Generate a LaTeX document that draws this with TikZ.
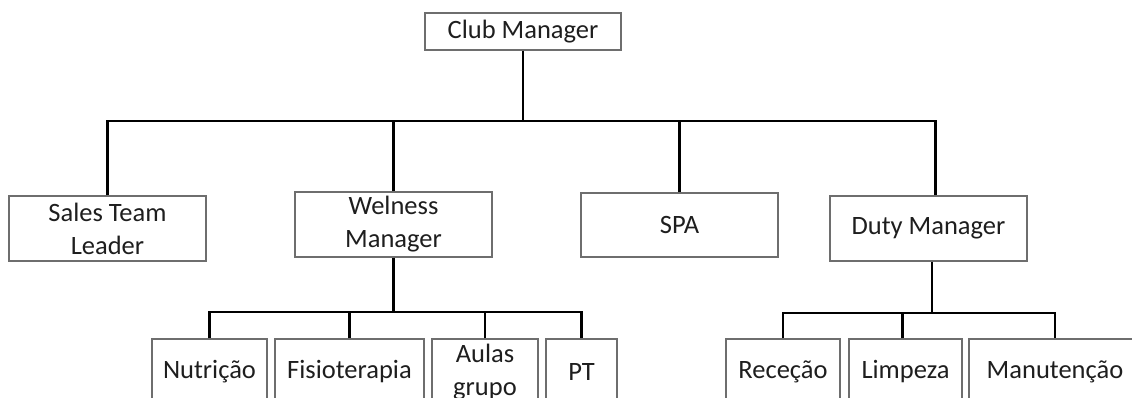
\documentclass[tikz,border=0pt]{standalone}
\usepackage{fontspec}
\setmainfont{Carlito}
\definecolor{boxline}{HTML}{6E6E6E}
\definecolor{boxtext}{HTML}{1E1E1E}
\tikzset{
  unitbox/.style={draw=boxline, line width=1.3pt, text=boxtext, align=center, inner sep=0pt,
    font=\fontsize{26.5}{33}\selectfont},
  link/.style={line width=2.8pt, line join=miter},
}
\begin{document}
\begin{tikzpicture}[x=1pt,y=-1pt]
          \useasboundingbox (0,0) rectangle (1132,398);
          \clip (0,0) rectangle (1132,398);

          \node[unitbox, minimum width=196pt, minimum height=37pt] (club) at (523,31.5) {Club Manager};

          \node[unitbox, minimum width=197pt, minimum height=65pt] (sales) at (107.5,228.5) {Sales Team\\Leader};
          \node[unitbox, minimum width=197pt, minimum height=65pt] (welness) at (393.5,224.5) {Welness\\Manager};
          \node[unitbox, minimum width=197pt, minimum height=64pt] (spa) at (679.5,225) {SPA};
          \node[unitbox, minimum width=197pt, minimum height=65pt] (duty) at (928.5,228.5) {Duty Manager};

          \coordinate (bus1) at (0,121);
          \draw[link] (club.south) -- (club.south |- bus1);
          \draw[link] (sales.north) -- (sales.north |- bus1) -- ([xshift=7pt]duty.north |- bus1) -- ([xshift=7pt]duty.north);
          \draw[link] (welness.north) -- (welness.north |- bus1);
          \draw[link] (spa.north) -- (spa.north |- bus1);

          \node[unitbox, minimum width=115pt, minimum height=66pt] (nutri) at (209.5,372) {Nutrição};
          \node[unitbox, minimum width=149pt, minimum height=66pt] (fisio) at (349.5,372) {Fisioterapia};
          \node[unitbox, minimum width=106pt, minimum height=66pt] (aulas) at (485,372) {Aulas\\grupo};
          \node[unitbox, minimum width=71pt, minimum height=66pt] (pt) at (581.5,372) {PT};

          \coordinate (bus2) at (0,312);
          \draw[link] (welness.south) -- (welness.south |- bus2);
          \draw[link] (nutri.north) -- (nutri.north |- bus2) -- (pt.north |- bus2) -- (pt.north);
          \draw[link] (fisio.north) -- (fisio.north |- bus2);
          \draw[link] (aulas.north) -- (aulas.north |- bus2);

          \node[unitbox, minimum width=114pt, minimum height=66pt] (rece) at (783,372) {Receção};
          \node[unitbox, minimum width=113pt, minimum height=66pt] (limp) at (905.5,372) {Limpeza};
          \node[unitbox, minimum width=172pt, minimum height=66pt] (manu) at (1055,372) {Manutenção};

          \coordinate (bus3) at (0,313);
          \draw[link] ([xshift=3.5pt]duty.south) -- ([xshift=3.5pt]duty.south |- bus3);
          \draw[link] (rece.north) -- (rece.north |- bus3) -- (manu.north |- bus3) -- (manu.north);
          \draw[link] ([xshift=-3pt]limp.north) -- ([xshift=-3pt]limp.north |- bus3);

    \end{tikzpicture}
\end{document}
